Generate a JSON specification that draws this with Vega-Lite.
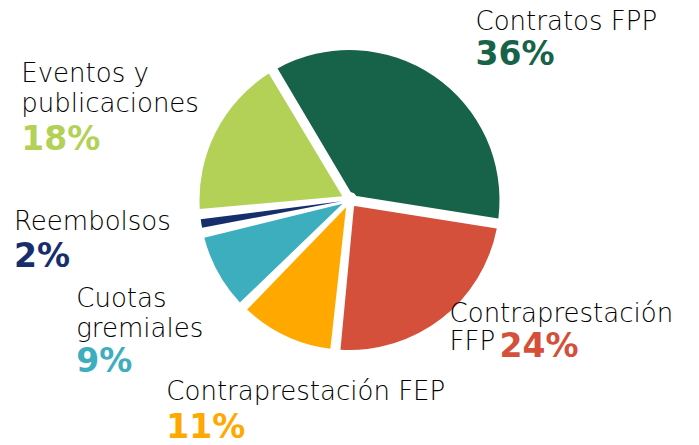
{
  "$schema": "https://vega.github.io/schema/vega-lite/v6.json",
  "width": 699,
  "height": 400,
  "autosize": {"type": "none"},
  "padding": {"left": 0, "right": 0, "top": 0, "bottom": 45},
  "background": "white",
  "config": {"view": {"stroke": null}},
  "data": {
    "values": [
      {"category": "Contratos FPP", "label": "Contratos FPP", "pct": "36%", "value": 36, "orden": 1},
      {"category": "Contraprestación FFP", "label": "Contraprestación\nFFP", "pct": "24%", "value": 24, "orden": 2},
      {"category": "Contraprestación FEP", "label": "Contraprestación FEP", "pct": "11%", "value": 11, "orden": 3},
      {"category": "Cuotas gremiales", "label": "Cuotas\ngremiales", "pct": "9%", "value": 9, "orden": 4},
      {"category": "Reembolsos", "label": "Reembolsos", "pct": "2%", "value": 2, "orden": 5},
      {"category": "Eventos y publicaciones", "label": "Eventos y\npublicaciones", "pct": "18%", "value": 18, "orden": 6}
    ]
  },
  "encoding": {
    "theta": {"field": "value", "type": "quantitative", "stack": true, "scale": {"range": [-0.534, 5.749]}},
    "order": {"field": "orden", "type": "quantitative"},
    "detail": {"field": "category", "type": "nominal"}
  },
  "layer": [
    {
      "mark": {"type": "arc", "outerRadius": 150, "innerRadius": 8, "padAngle": 0.0675},
      "encoding": {
        "color": {"field": "category", "type": "nominal", "legend": null,
          "scale": {"domain": ["Contratos FPP", "Contraprestación FFP", "Contraprestación FEP", "Cuotas gremiales", "Reembolsos", "Eventos y publicaciones"],
                    "range": ["#17634A", "#D4503A", "#FFA900", "#3DAEBE", "#172E6D", "#B3D157"]}}
      }
    },
    {
      "mark": {"type": "text", "radius": 210, "dx": 8, "dy": 4, "align": "left", "baseline": "alphabetic", "font": "DejaVu Sans", "fontWeight": 200, "fontSize": 26, "fill": "#000000", "lineBreak": "\n", "lineHeight": 30},
      "encoding": {"text": {"condition": {"test": "datum.category === 'Contratos FPP'", "field": "label", "type": "nominal"}, "value": ""}}
    },
    {
      "mark": {"type": "text", "radius": 210, "dx": 8, "dy": 39, "align": "left", "baseline": "alphabetic", "font": "DejaVu Sans", "fontWeight": "bold", "fontSize": 33},
      "encoding": {"text": {"condition": {"test": "datum.category === 'Contratos FPP'", "field": "pct", "type": "nominal"}, "value": ""},
        "color": {"field": "category", "type": "nominal", "legend": null}}
    },
    {
      "mark": {"type": "text", "radius": 160, "dx": 2, "dy": -4, "align": "left", "baseline": "alphabetic", "font": "DejaVu Sans", "fontWeight": 200, "fontSize": 26, "fill": "#000000", "lineBreak": "\n", "lineHeight": 28},
      "encoding": {"text": {"condition": {"test": "datum.category === 'Contraprestación FFP'", "field": "label", "type": "nominal"}, "value": ""}}
    },
    {
      "mark": {"type": "text", "radius": 160, "dx": 52, "dy": 31, "align": "left", "baseline": "alphabetic", "font": "DejaVu Sans", "fontWeight": "bold", "fontSize": 33},
      "encoding": {"text": {"condition": {"test": "datum.category === 'Contraprestación FFP'", "field": "pct", "type": "nominal"}, "value": ""},
        "color": {"field": "category", "type": "nominal", "legend": null}}
    },
    {
      "mark": {"type": "text", "radius": 200, "dx": -98, "dy": 19, "align": "left", "baseline": "alphabetic", "font": "DejaVu Sans", "fontWeight": 200, "fontSize": 26, "fill": "#000000", "lineBreak": "\n", "lineHeight": 30},
      "encoding": {"text": {"condition": {"test": "datum.category === 'Contraprestación FEP'", "field": "label", "type": "nominal"}, "value": ""}}
    },
    {
      "mark": {"type": "text", "radius": 200, "dx": -98, "dy": 57, "align": "left", "baseline": "alphabetic", "font": "DejaVu Sans", "fontWeight": "bold", "fontSize": 33},
      "encoding": {"text": {"condition": {"test": "datum.category === 'Contraprestación FEP'", "field": "pct", "type": "nominal"}, "value": ""},
        "color": {"field": "category", "type": "nominal", "legend": null}}
    },
    {
      "mark": {"type": "text", "radius": 200, "dx": -98, "dy": 11, "align": "left", "baseline": "alphabetic", "font": "DejaVu Sans", "fontWeight": 200, "fontSize": 26, "fill": "#000000", "lineBreak": "\n", "lineHeight": 30},
      "encoding": {"text": {"condition": {"test": "datum.category === 'Cuotas gremiales'", "field": "label", "type": "nominal"}, "value": ""}}
    },
    {
      "mark": {"type": "text", "radius": 200, "dx": -98, "dy": 76, "align": "left", "baseline": "alphabetic", "font": "DejaVu Sans", "fontWeight": "bold", "fontSize": 33},
      "encoding": {"text": {"condition": {"test": "datum.category === 'Cuotas gremiales'", "field": "pct", "type": "nominal"}, "value": ""},
        "color": {"field": "category", "type": "nominal", "legend": null}}
    },
    {
      "mark": {"type": "text", "radius": 200, "dx": -138, "dy": -1, "align": "left", "baseline": "alphabetic", "font": "DejaVu Sans", "fontWeight": 200, "fontSize": 26, "fill": "#000000", "lineBreak": "\n", "lineHeight": 30},
      "encoding": {"text": {"condition": {"test": "datum.category === 'Reembolsos'", "field": "label", "type": "nominal"}, "value": ""}}
    },
    {
      "mark": {"type": "text", "radius": 200, "dx": -138, "dy": 36, "align": "left", "baseline": "alphabetic", "font": "DejaVu Sans", "fontWeight": "bold", "fontSize": 33},
      "encoding": {"text": {"condition": {"test": "datum.category === 'Reembolsos'", "field": "pct", "type": "nominal"}, "value": ""},
        "color": {"field": "category", "type": "nominal", "legend": null}}
    },
    {
      "mark": {"type": "text", "radius": 200, "dx": -150, "dy": -27, "align": "left", "baseline": "alphabetic", "font": "DejaVu Sans", "fontWeight": 200, "fontSize": 26, "fill": "#000000", "lineBreak": "\n", "lineHeight": 30},
      "encoding": {"text": {"condition": {"test": "datum.category === 'Eventos y publicaciones'", "field": "label", "type": "nominal"}, "value": ""}}
    },
    {
      "mark": {"type": "text", "radius": 200, "dx": -150, "dy": 41, "align": "left", "baseline": "alphabetic", "font": "DejaVu Sans", "fontWeight": "bold", "fontSize": 33},
      "encoding": {"text": {"condition": {"test": "datum.category === 'Eventos y publicaciones'", "field": "pct", "type": "nominal"}, "value": ""},
        "color": {"field": "category", "type": "nominal", "legend": null}}
    }
  ]
}
